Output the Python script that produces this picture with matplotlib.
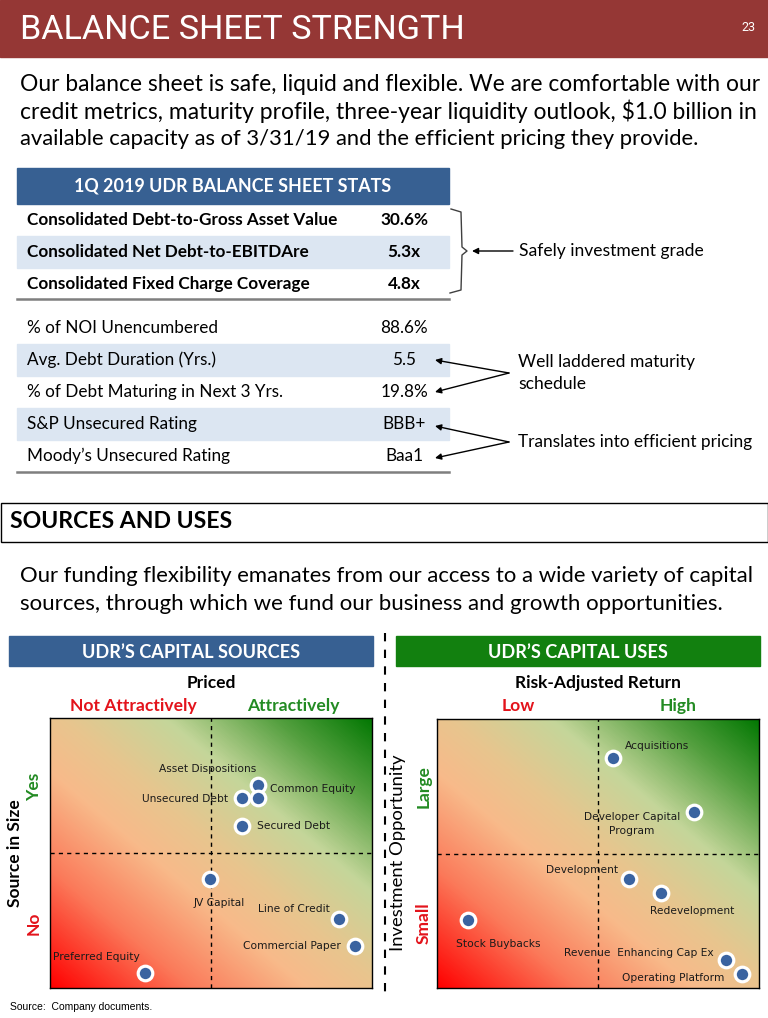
import numpy as np
import matplotlib.pyplot as plt
from matplotlib.colors import LinearSegmentedColormap
from matplotlib.patches import Rectangle

# ---- data ----
title = "BALANCE SHEET STRENGTH"
page_no = "23"
intro_lines = [
    "Our balance sheet is safe, liquid and flexible. We are comfortable with our",
    "credit metrics, maturity profile, three-year liquidity outlook, $1.0 billion in",
    "available capacity as of 3/31/19 and the efficient pricing they provide.",
]
table_title = "1Q 2019 UDR BALANCE SHEET STATS"
top_labels = ["Consolidated Debt-to-Gross Asset Value",
              "Consolidated Net Debt-to-EBITDAre",
              "Consolidated Fixed Charge Coverage"]
top_values = ["30.6%", "5.3x", "4.8x"]
bottom_labels = ["% of NOI Unencumbered",
                 "Avg. Debt Duration (Yrs.)",
                 "% of Debt Maturing in Next 3 Yrs.",
                 "S&P Unsecured Rating",
                 "Moody\u2019s Unsecured Rating"]
bottom_values = ["88.6%", "5.5", "19.8%", "BBB+", "Baa1"]
notes = ["Safely investment grade",
         "Well laddered maturity\nschedule",
         "Translates into efficient pricing"]

section_title = "SOURCES AND USES"
section_lines = [
    "Our funding flexibility emanates from our access to a wide variety of capital",
    "sources, through which we fund our business and growth opportunities.",
]

source_names = ["Common Equity", "Unsecured Debt", "Asset Dispositions", "Secured Debt",
                "JV Capital", "Line of Credit", "Commercial Paper", "Preferred Equity"]
source_x = [6.46, 5.96, 6.46, 5.96, 4.97, 8.98, 9.47, 2.95]
source_y = [7.52, 7.04, 7.04, 6.00, 4.04, 2.56, 1.56, 0.56]

use_names = ["Acquisitions", "Developer Capital\nProgram", "Development", "Redevelopment",
             "Stock Buybacks", "Revenue  Enhancing Cap Ex", "Operating Platform"]
use_x = [5.47, 7.98, 5.96, 6.96, 0.96, 8.98, 9.47]
use_y = [8.55, 6.54, 4.05, 3.53, 2.53, 1.04, 0.52]

# label offsets in pixels (dx, dy, ha)
source_offsets = [(12, -4, 'left'), (-14, -1, 'right'), (-50, 29, 'center'), (15, 0, 'left'),
                  (9, -24, 'center'), (-9, 10, 'right'), (-14, 0, 'right'), (-92, 16, 'left')]
use_offsets = [(44, 12, 'center'), (-62, -12, 'center'), (-47, 9, 'center'), (31, -18, 'center'),
               (30, -24, 'center'), (-87, 7, 'center'), (-69, -4, 'center')]

RED_BAR = '#953735'
BLUE = '#376092'
GREEN = '#12800F'
SHADE = '#DCE6F2'
TXT_RED = '#E3131B'
TXT_GREEN = '#238B23'
BODY = ['Lato', 'DejaVu Sans']
TS = 12.3   # table / note text size

W, H = 768, 1018
fig = plt.figure(figsize=(W / 100, H / 100), dpi=100)
ax = fig.add_axes([0, 0, 1, 1])
ax.set_xlim(0, W)
ax.set_ylim(H, 0)
ax.axis('off')
renderer = fig.canvas.get_renderer()


def put(x, y, s, width=None, **kw):
    kw.setdefault('family', BODY)
    kw.setdefault('va', 'center')
    t = ax.text(x, y, s, **kw)
    if width:
        bb = t.get_window_extent(renderer)
        t.set_fontsize(t.get_fontsize() * width / bb.width)
    return t


# title bar
ax.add_patch(Rectangle((0, 0), W, 57, color=RED_BAR))
put(20, 30, title, width=445, color='white', fontsize=26, family=['Roboto', 'DejaVu Sans'])
put(741, 27, page_no, color='white', fontsize=9, family=['Roboto', 'DejaVu Sans'])

for i, line in enumerate(intro_lines):
    w = 737 if i < 2 else 680
    put(20, 84 + i * 27.5, line, width=w, fontsize=15, color='black')

# stats table
ax.add_patch(Rectangle((17, 168), 432, 36, color=BLUE))
put(233, 186, table_title, width=317, ha='center', color='white', fontsize=12, weight='bold')
for i, (lab, val) in enumerate(zip(top_labels, top_values)):
    y = 220 + i * 32
    if i == 1:
        ax.add_patch(Rectangle((17, y - 16), 432, 32, color=SHADE))
    put(27, y, lab, fontsize=TS, weight='bold', color='black')
    put(404, y, val, ha='center', fontsize=TS, weight='bold', color='black')
ax.plot([17, 449], [299, 299], color='#7F7F7F', lw=1.8)

for i, (lab, val) in enumerate(zip(bottom_labels, bottom_values)):
    y = 328 + i * 32
    if i in (1, 3):
        ax.add_patch(Rectangle((17, y - 16), 432, 32, color=SHADE))
    put(27, y, lab, fontsize=TS, color='black')
    put(404, y, val, ha='center', fontsize=TS, color='black')
ax.plot([17, 449], [472, 472], color='#7F7F7F', lw=1.8)

# brace + arrows
ax.plot([451, 461, 462, 467, 462, 461, 450], [209, 212, 247, 251, 255, 290, 293],
        color='#404040', lw=1)
arrow = dict(arrowstyle='-|>', color='black', lw=1, mutation_scale=9, shrinkA=0, shrinkB=0)
ax.annotate('', xy=(472, 251), xytext=(513, 251), arrowprops=arrow)
put(519, 251, notes[0], fontsize=12.6, color='black')
for ty in (360, 392):
    ax.annotate('', xy=(435, ty), xytext=(509, 373), arrowprops=arrow)
put(518, 373, notes[1], fontsize=12.6, color='black', linespacing=1.45)
for ty in (426, 458):
    ax.annotate('', xy=(435, ty), xytext=(509, 442), arrowprops=arrow)
put(518, 442, notes[2], fontsize=12.4, color='black')

# sources and uses section
ax.add_patch(Rectangle((0.5, 503), 767, 39, facecolor='white', edgecolor='black', lw=1))
put(10, 522, section_title, width=222, fontsize=15, weight='bold', color='black')
put(20, 576, section_lines[0], width=737, fontsize=15, color='black')
put(20, 604, section_lines[1], width=701, fontsize=15, color='black')

ax.add_patch(Rectangle((9, 636), 364, 30, color=BLUE))
put(191, 652, "UDR\u2019S CAPITAL SOURCES", width=218, ha='center', fontsize=12,
    weight='bold', color='white')
ax.add_patch(Rectangle((396, 636), 364, 30, color=GREEN))
put(578, 652, "UDR\u2019S CAPITAL USES", width=180, ha='center', fontsize=12,
    weight='bold', color='white')
ax.plot([385, 385], [633, 995], color='black', lw=1.5, dashes=(4, 4))

put(211, 683, "Priced", ha='center', fontsize=12.5, weight='bold', color='black')
put(133, 706, "Not Attractively", ha='center', fontsize=12.6, weight='bold', color=TXT_RED)
put(293, 706, "Attractively", ha='center', fontsize=12.6, weight='bold', color=TXT_GREEN)
put(15, 853, "Source in Size", ha='center', rotation=90, fontsize=12.5, weight='bold', color='black')
put(34, 787, "Yes", ha='center', rotation=90, fontsize=12.5, weight='bold', color=TXT_GREEN)
put(34, 923, "No", ha='center', rotation=90, fontsize=12.5, weight='bold', color=TXT_RED)

put(598, 683, "Risk-Adjusted Return", ha='center', fontsize=12.5, weight='bold', color='black')
put(518, 706, "Low", ha='center', fontsize=12.6, weight='bold', color=TXT_RED)
put(678, 706, "High", ha='center', fontsize=12.6, weight='bold', color=TXT_GREEN)
put(398, 853, "Investment Opportunity", ha='center', rotation=90, fontsize=13.3, color='black')
put(424, 787, "Large", ha='center', rotation=90, fontsize=12.5, weight='bold', color=TXT_GREEN)
put(424, 923, "Small", ha='center', rotation=90, fontsize=12.5, weight='bold', color=TXT_RED)

put(10, 1007, "Source:  Company documents.", fontsize=7.5, color='black', family='Liberation Sans')

# quadrant charts
cmap = LinearSegmentedColormap.from_list('rg', [
    (0.0, '#FF0000'), (0.22, '#FB7A5A'), (0.40, '#F8BA8A'), (0.52, '#E8C58E'),
    (0.68, '#C4D69A'), (0.85, '#55A040'), (1.0, '#037803')])
gx, gy = np.meshgrid(np.linspace(0, 1, 300), np.linspace(0, 1, 300))
grad = (gx + gy) / 2


def quad(l, t, r, b, names, xs, ys, offsets):
    a = fig.add_axes([l / W, 1 - b / H, (r - l) / W, (b - t) / H])
    a.imshow(grad, extent=[0, 10, 0, 10], origin='lower', aspect='auto', cmap=cmap,
             vmin=0, vmax=1, zorder=0)
    a.set_xlim(0, 10)
    a.set_ylim(0, 10)
    a.axvline(5, color='black', lw=1, dashes=(3, 3), zorder=1)
    a.axhline(5, color='black', lw=1, dashes=(3, 3), zorder=1)
    a.scatter(xs, ys, s=110, c='#3A63A0', edgecolors='white', linewidths=2.3, zorder=3)
    for n, x, y, (dx, dy, ha) in zip(names, xs, ys, offsets):
        a.annotate(n, (x, y), xytext=(dx, dy), textcoords='offset pixels', ha=ha, va='center',
                   fontsize=7.7, family='DejaVu Sans', color='#1a1a1a', zorder=4,
                   linespacing=1.45)
    a.set_xticks([])
    a.set_yticks([])
    for s in a.spines.values():
        s.set_color('black')
        s.set_linewidth(1)
    return a


quad(50, 718, 372, 988, source_names, source_x, source_y, source_offsets)
quad(437, 719, 759, 988, use_names, use_x, use_y, use_offsets)

fig.savefig('out.png', dpi=100)
